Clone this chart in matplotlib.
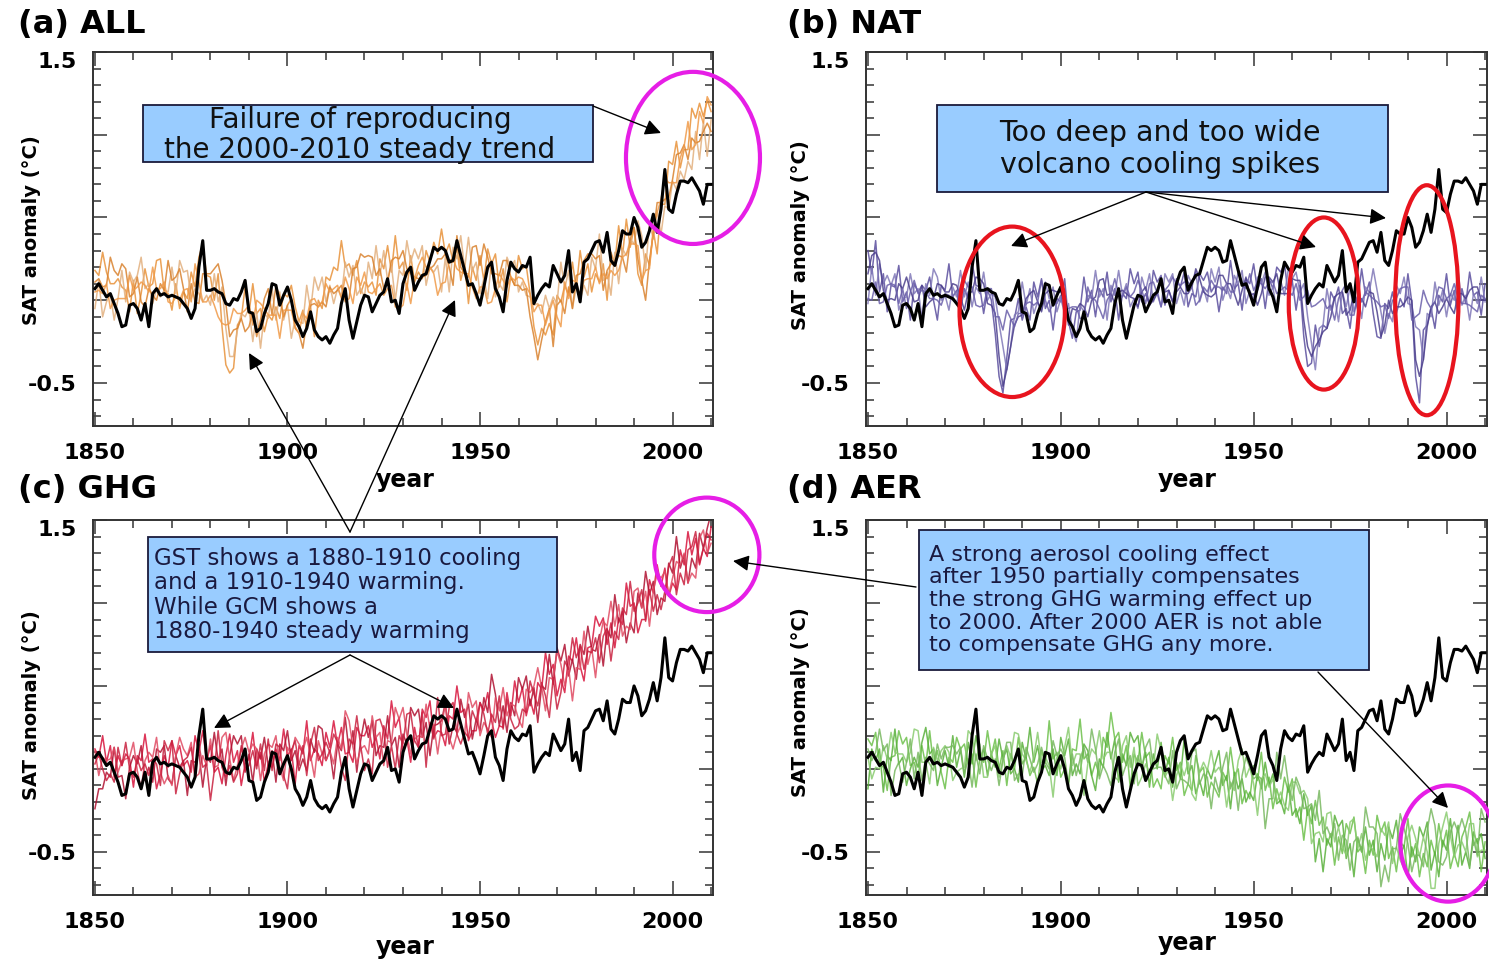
import numpy as np
import matplotlib
matplotlib.use('Agg')
import matplotlib.pyplot as plt
from matplotlib.patches import Ellipse, Rectangle
from matplotlib.ticker import MultipleLocator

years = np.arange(1850, 2011)

# observed SAT anomaly (hundredths of a degree), 1850-2010
obs = [7, 10, 6, 2, 4, -2, -8, -16, -15, -3,
       -2, -5, -12, -2, -16, 4, 7, 3, 4, 2,
       3, 2, 1, -2, -5, -11, -5, 20, 36, 6,
       6, 7, 5, 4, -2, -3, 1, 0, 5, 12,
       -7, -8, -19, -17, -8, -2, 10, 9, -3, 3,
       8, 0, -12, -16, -22, -17, -7, -18, -22, -24,
       -22, -26, -21, -17, -2, 7, -12, -23, -13, -3,
       3, 2, -7, -2, 3, 5, 13, -1, 0, -8,
       10, 17, 20, 6, 11, 15, 16, 24, 32, 30,
       32, 30, 23, 24, 36, 27, 18, 9, 10, 4,
       -3, 8, 20, 23, 7, 2, -7, 12, 23, 19,
       17, 21, 20, 26, -2, 3, 7, 10, 8, 21,
       16, 11, 15, 30, 5, 10, -1, 23, 25, 30,
       35, 36, 29, 41, 24, 21, 30, 42, 40, 40,
       50, 44, 32, 35, 42, 52, 41, 55, 79, 55,
       53, 64, 72, 72, 71, 74, 70, 66, 58, 70,
       70]

# model runs, all forcings (year-to-year part)
all_runs = [
    [12, 4, 15, 9, -2, 6, 14, 3, 10, 1, 14, 2, 8, 16, -1, 5, 12, 18, 4, 9,
     3, 13, 7, 11, -1, 9, 4, 15, 19, 6, 11, 2, 10, -8, -25, -38, -30, -12, -15, -2,
     -14, -3, -16, -7, -15, 0, -10, 3, -12, -1, -9, 2, -18, -22, -9, -14, 3, -8, 6, -4,
     10, 2, 14, 5, 19, 9, 17, 6, 22, 8, 19, 10, 22, 8, 24, 13, 21, 9, 25, 12,
     22, 11, 24, 13, 26, 17, 28, 14, 30, 16, 27, 18, 30, 15, 33, 19, 25, 10, 26, 12,
     21, 10, 22, 8, 20, 5, 23, 9, 19, 7, 20, 6, 16, -6, -20, -24, -8, -17, -2, -14,
     4, -6, 12, 0, 14, 3, 19, 8, 24, 11, 27, 15, 20, 5, 26, 14, 32, 20, 37, 28,
     46, 24, 12, 22, 20, 48, 40, 63, 54, 75, 68, 88, 77, 95, 85, 104, 93, 110, 98, 116,
     104],
    [3, 15, 0, 13, 10, -1, 5, 16, 2, 12, 2, 11, 15, 1, 10, 3, 16, 4, 13, 2,
     12, 2, 14, 3, 11, 0, 13, 6, 8, 15, 2, 13, 1, 4, -14, -22, -28, -8, -4, -12,
     -2, -16, -3, -18, -2, -12, 1, -11, 0, -10, 4, -11, -6, -12, -20, -2, -10, 5, -7, 8,
     -1, 15, 0, 16, 6, 20, 5, 19, 8, 18, 8, 22, 6, 21, 10, 20, 9, 24, 8, 20,
     10, 25, 8, 23, 12, 27, 10, 26, 15, 25, 14, 29, 13, 30, 18, 27, 11, 24, 12, 24,
     9, 24, 7, 23, 6, 19, 8, 21, 10, 20, 8, 19, 4, 8, -5, -10, -20, -3, -15, -1,
     -10, 9, -2, 16, -1, 18, 5, 21, 10, 25, 13, 29, 8, 19, 10, 30, 18, 34, 24, 42,
     30, 38, 24, 10, 35, 32, 56, 47, 70, 61, 82, 72, 90, 80, 99, 88, 106, 96, 114, 100,
     117],
    [9, 18, 7, 2, 14, 9, 0, 12, 15, 4, 10, 13, 3, 6, 12, 16, 7, 11, 1, 14,
     8, 5, 16, 11, 2, 13, 9, 3, 14, 10, 5, 12, 9, 0, -22, -36, -24, -18, -6, -9,
     -10, -6, -14, -9, -4, -2, -12, -2, -4, -10, 1, -2, -14, -12, -16, -6, -1, -6, -3, 5,
     6, 11, 12, 7, 15, 11, 8, 18, 13, 16, 17, 13, 18, 12, 22, 15, 13, 20, 17, 10,
     20, 15, 18, 21, 16, 24, 20, 18, 25, 22, 18, 26, 24, 19, 42, 18, 22, 13, 24, 20,
     12, 19, 16, 12, 18, 10, 12, 17, 13, 15, 11, 15, 12, 2, -14, -22, -18, -12, -10, -24,
     -6, 5, 1, 10, 2, 14, 10, 12, 20, 14, 18, 26, 12, 16, 14, 24, 22, 30, 26, 40,
     52, 28, 22, 14, 30, 38, 52, 58, 66, 72, 76, 84, 80, 92, 90, 100, 104, 100, 112, 110,
     108],
    [6, 2, 10, 12, 4, 3, 11, 8, 0, 9, 5, 1, 12, 4, 8, 10, 3, 13, 9, 5,
     2, 11, 1, 9, 8, 4, 10, 14, 7, 3, 12, 4, 7, -6, -12, -18, -16, -20, -13, -4,
     -6, -12, -4, -14, -10, -8, -2, -6, -11, -3, -6, -8, -10, -20, -12, -10, -6, 0, 2, -2,
     4, 6, 3, 12, 8, 16, 14, 10, 18, 6, 12, 18, 8, 17, 13, 11, 20, 18, 11, 15,
     13, 20, 14, 12, 22, 18, 16, 24, 19, 14, 24, 20, 16, 25, 22, 24, 15, 19, 16, 13,
     18, 14, 11, 18, 9, 15, 18, 10, 20, 12, 16, 9, 7, -4, -9, -12, -6, -14, -4, -8,
     0, -2, 8, 4, 10, 6, 14, 18, 12, 22, 22, 18, 16, 8, 22, 20, 28, 26, 34, 30,
     28, 32, 14, 18, 26, 44, 46, 50, 60, 64, 72, 78, 86, 84, 94, 92, 98, 108, 104, 112,
     114],
]
# slow wander of each all-forcing run
all_slow = [
    [6, 11, 14, 8, 12, 4, -1, 5, -4, -8, -2, -10, -4, 3, 9, 5, 12, 7, 1, -5,
     -9, -3, -12, -6, 2, 8, 4, 11, 15, 9, 3, -2, 6, -8, -14, -6, -11, -3, 4, 10,
     6, 13, 8, 2, -4, -9, -2, -7, 1, 5, 11, 7, 14, 9, 3, -3, -8, -14, -6, -1,
     4, 10, 6, 13, 17, 11, 5, 9, 2, -4, -8, -2, -11, -5, 1, 6, 12, 8, 14, 7,
     1, -5, 3, -2, -9, -4, 2, 9, 5, 12, 16, 10, 4, 8, -1, -7, -3, -12, -6, 0,
     6, 2, 9, 14, 8, 3, -4, -10, -5, 2, 7, 13, 5, 10, 4, -3, -9, -4, -12, -7,
     -1, 5, -3, 3, 9, 4, 11, 6, -2, -6, -11, -4, 2, -5, 3, 8, 13, 7, 12, 4,
     -2, -8, -3, 6, 1, -6, -12, -5, 4, 9, 14, 8, 3, -4, 6, 12, 17, 9, 13, 5,
     10],
    [-8, -3, -10, -14, -6, -11, -4, 2, -3, 5, 9, 4, 11, 6, 0, -5, -9, -2, -7, 3,
     8, 2, 10, 14, 7, 1, -6, -2, -9, -12, -5, 3, -2, 4, -3, -12, -6, -10, -4, 2,
     -3, -9, -4, -11, -6, 1, 6, -1, 5, -2, -7, -12, -5, -1, 6, 11, 4, 9, 13, 6,
     0, -6, -2, -9, -4, 3, 9, 2, -5, -11, -6, 1, 7, 12, 5, 10, 3, -3, -8, -2,
     5, 11, 15, 8, 13, 6, -1, -6, 2, -4, -9, -3, -8, 2, 7, 12, 8, 14, 6, -1,
     -5, -11, -6, 1, -4, -9, -2, 5, 10, 4, -3, -8, -1, -6, 2, 8, 12, 6, 10, 3,
     8, 14, 9, 2, -4, -10, -5, -12, -7, 1, 6, 11, 4, -2, -7, -1, -8, -3, 3, -5,
     4, 10, 15, 8, 12, 5, -2, -7, -13, -6, -10, -5, -12, -7, -15, -9, -4, -11, -6, -13,
     -8],
    [2, -5, 1, 7, 12, 9, 15, 10, 4, -2, -6, 1, -4, -10, -5, -13, -7, -1, 5, 10,
     4, 9, 3, -4, -9, -3, -10, -5, 2, 6, 11, 7, 13, 12, 20, 14, 6, 1, -5, -10,
     -6, -1, -8, -3, 5, 9, 3, 11, 6, 0, -4, 3, -3, -8, -13, -7, -2, 4, -1, -6,
     -10, -3, -8, -1, -6, -12, -7, 1, 7, 12, 9, 14, 8, 3, -3, -8, -2, 4, 9, 15,
     10, 4, -2, -7, -3, -10, -5, 1, -4, 3, 7, 2, -4, -10, -3, 2, -6, 1, 8, 13,
     9, 15, 10, 4, -2, 5, 12, 7, 1, -6, -2, -9, -5, -12, -8, -14, -6, -1, 5, -4,
     3, -5, -9, -2, -7, 1, 6, 12, 8, 14, 7, 1, -6, 2, 8, -2, 5, -4, -9, -3,
     -8, -3, -10, -14, -6, 2, 7, 1, -5, -10, -3, 4, 9, 2, -5, -2, -9, -4, -10, -3,
     -6],
    [-1, 4, -6, -2, -9, -3, -10, -7, 1, 6, 1, 7, -1, 5, -3, 10, 4, -6, 2, -6,
     -4, -9, -1, -3, -1, -5, 12, -3, -8, -4, -9, -7, -17, -8, -3, 4, 11, 12, 5, -2,
     3, -3, 4, 12, 5, -1, -7, -3, -12, -3, 0, 2, -6, 0, 4, -1, 6, 1, -6, 1,
     6, -1, 4, -3, -7, -2, -7, -12, -4, 3, 5, -13, -4, -10, -3, -8, -13, -9, -15, -20,
     -16, -10, -16, 1, -1, 8, 4, -4, -3, -11, -14, -9, 8, 0, -3, -7, 1, -3, -8, -12,
     -10, -6, -13, -19, -2, 1, -6, -2, -6, 0, -2, 4, 1, 8, 2, 9, 3, -1, -3, 8,
     -10, -14, 3, -3, 2, 5, -12, -6, 1, -9, -2, -8, 0, 5, -4, -5, -10, 0, -6, 4,
     6, 1, -2, 0, -7, -1, 7, 11, 14, 7, -1, -7, 0, 9, 14, -1, -4, 6, 3, 11,
     4],
]

# model runs, natural forcings only
nat_runs = [
    [20, 12, 28, 8, 14, -2, 10, 2, 12, -4, 9, -3, 12, 0, 8, -2, 11, 3, -4, 10,
     0, 12, -2, 8, 1, 10, -1, 14, 4, 9, -2, 8, -4, -16, -36, -44, -30, -14, -18, -2,
     -10, 4, -8, 8, -6, 9, -4, 6, -8, 5, -3, 6, -14, -18, -6, -12, 4, -6, 8, -3,
     10, -2, 8, -4, 11, -3, 9, 0, 12, -1, 11, 0, 10, -1, 13, 2, 11, 0, 14, 3,
     12, 1, 14, 0, 13, 4, 12, 2, 11, 5, 14, 3, 12, 2, 16, 4, 13, 1, 14, 5,
     13, 2, 15, 3, 16, 4, 12, 5, 15, 2, 16, 3, 12, -12, -26, -32, -16, -24, -6, -14,
     2, -8, 6, -4, 4, -12, 2, -6, 8, -2, 12, -2, -12, -20, -4, -12, 2, -6, 8, -2,
     12, -10, -38, -46, -14, -16, 0, -8, 6, -4, 8, -6, 8, -2, 10, -6, 8, -2, 6, -4,
     8],
    [4, 22, 12, 18, 2, 12, 0, 14, -2, 10, -1, 8, 0, 10, -4, 12, -2, 9, 8, -1,
     8, 2, 11, -2, 9, -3, 12, 2, 10, 0, 9, -3, 7, -4, -18, -26, -34, -22, -8, -12,
     2, -8, 6, -4, 7, -3, 8, -6, 4, -6, 7, -5, -4, -14, -16, 2, -8, 6, -4, 9,
     -2, 9, -4, 12, 0, 10, -2, 11, 1, 10, -1, 12, -2, 11, 1, 13, -1, 12, 2, 13,
     0, 14, 1, 12, 3, 15, 2, 14, 1, 15, 2, 15, 1, 14, 4, 13, 3, 15, 2, 14,
     3, 12, 4, 14, 5, 15, 3, 16, 4, 14, 5, 14, 0, 2, -12, -20, -30, -12, -18, -2,
     -10, 4, -6, 8, -8, 0, -10, 6, -4, 10, 0, 10, 0, -8, -16, 0, -10, 6, -4, 10,
     0, 4, -18, -24, -28, -4, -12, 4, -6, 8, -4, 6, -4, 10, -6, 6, -4, 8, -4, 8,
     -2],
    [14, 18, 24, 14, 10, 8, 4, 6, 10, 2, 6, 4, 2, 8, 6, 0, 8, 4, 6, 2,
     4, 8, 2, 6, 4, 2, 10, 6, 8, 4, 6, 2, 4, -10, -28, -38, -24, -20, -10, -8,
     -4, 0, -2, 4, 2, 0, 6, 2, -2, 2, 0, 2, -10, -8, -14, -4, 0, -2, 4, 0,
     6, 4, 0, 6, 4, 6, 2, 8, 4, 6, 4, 8, 6, 2, 8, 6, 8, 4, 10, 6,
     8, 6, 10, 6, 4, 10, 8, 6, 8, 10, 6, 12, 8, 6, 12, 10, 6, 8, 10, 6,
     10, 6, 8, 12, 8, 10, 12, 6, 10, 8, 12, 6, 10, -8, -20, -22, -24, -14, -14, -8,
     -6, 0, -2, 4, -4, -4, 0, -2, 4, 2, 8, 2, -4, -16, -12, -4, -6, 2, 0, 6,
     8, -2, -30, -36, -24, -8, -8, 0, -2, 4, 4, 2, 0, 6, 0, 2, 4, 0, 4, 2,
     4],
    [6, 10, 14, 6, 4, 2, 8, 12, 4, 6, 2, 6, 10, -2, 4, 8, 0, 6, 2, 4,
     6, 2, 8, 4, 8, 6, 4, 10, 6, 8, 2, 4, 0, -6, -22, -28, -20, -16, -14, -4,
     -6, -4, 2, -2, -4, 6, 0, -2, 0, -4, 4, -4, -6, -10, -6, -8, -4, 2, 0, 4,
     2, 0, 4, 2, 6, 2, 6, 4, 2, 2, 6, 4, 2, 8, 6, 4, 2, 8, 6, 6,
     6, 10, 4, 8, 10, 6, 6, 10, 4, 8, 10, 6, 8, 10, 8, 4, 12, 4, 6, 10,
     6, 8, 10, 4, 12, 8, 6, 12, 8, 8, 8, 10, 4, -4, -14, -22, -18, -20, -10, -8,
     0, -4, 2, 0, 0, -8, -6, 2, 0, 6, 4, 6, -8, -12, -8, -8, -2, -4, 4, 2,
     4, -8, -22, -28, -18, -12, -4, -4, 2, 0, 0, -2, 4, 0, 2, -2, 0, 4, -2, 2,
     0],
]
nat_slow = [
    [10, 4, 8, -3, 2, -5, -1, 6, 9, 3, -4, -9, -2, 5, 1, 8, 3, -3, -8, -1,
     6, 10, 4, -2, -7, -3, 2, 9, 5, -1, -6, -2, 4, -4, -10, -12, -5, 2, 7, 3,
     -2, -8, -4, 3, 8, 4, -1, -6, -10, -4, 2, 7, 1, -5, -1, 6, 10, 5, -2, -7,
     -3, 4, 9, 3, -4, -9, -5, 1, 7, 11, 6, -1, -6, -2, 5, 9, 4, -3, -8, -4,
     1, 7, 3, -4, -9, -2, 4, 10, 6, 0, -5, -10, -4, 2, 8, 3, -3, -7, -1, 5,
     9, 4, -2, -8, -3, 3, 8, 12, 7, 1, -4, -9, -3, -10, -14, -6, 1, -4, -9, -3,
     3, 8, 2, -4, -9, -5, 1, 6, 11, 5, -1, -6, -10, -3, 2, 7, 3, -2, -7, -2,
     4, 9, -8, -16, -4, 1, -5, -9, -3, 3, 8, 3, -2, -7, -3, 4, 9, 5, -1, -5,
     2],
    [-6, -2, -9, 4, 8, 3, 9, 2, -4, -9, 3, 8, 4, -3, -7, -2, 5, 10, 6, 1,
     -5, -8, -3, 4, 9, 5, -1, -6, -2, 4, 8, 3, -3, 6, 4, -2, -8, -6, -1, 5,
     9, 5, 1, -4, -8, -3, 3, 7, 4, -1, -6, -3, 2, -4, -9, -5, 1, -3, 5, 9,
     4, -2, -8, -3, 3, 8, 5, -1, -5, -9, -4, 2, 8, 5, -2, -7, -3, 4, 9, 3,
     -2, -8, -4, 3, 7, 2, -3, -7, -2, 4, 9, 5, -1, -6, -3, 2, 7, 3, -4, -8,
     -3, 2, 6, 3, -2, -7, -10, -4, -1, 5, 8, 3, 5, 8, 2, -6, -12, -5, 3, 9,
     4, -2, -7, -3, 4, 8, 3, -3, -7, -2, 5, 9, 6, 1, -4, -8, -3, 3, 8, 4,
     -2, -7, 2, 6, -8, -4, 2, 7, 3, -2, -6, -2, 4, 8, 3, -3, -8, -4, 2, 6,
     1],
    [2, 9, 5, 10, -4, -8, -3, -6, 0, 5, 8, 2, -3, -8, 3, -4, -9, -3, 4, 7,
     1, -3, 8, 3, -2, -8, -5, -1, 6, 9, 4, -4, -7, 2, -6, -14, -18, -8, -5, -2,
     -5, 1, 6, 2, -3, -7, -2, 4, 8, 3, 5, -2, -5, 3, 8, 2, -4, -8, -4, 2,
     6, 9, 3, -2, -6, -1, 4, -4, -2, -5, -8, -3, 2, -5, -8, -2, 5, 1, -4, -7,
     -3, 2, -6, -2, 4, 9, 5, -1, -5, -8, -2, 3, 7, 4, -2, -6, -9, -2, 4, -3,
     -6, -9, -4, 2, 6, 1, 4, -2, -6, -4, 1, 6, 2, -4, -8, -12, -4, -10, -5, -9,
     -4, 2, 6, 1, -5, -2, 4, -4, -3, -6, -3, 2, -3, -6, -3, 4, -2, -6, -4, -8,
     -6, 2, -6, -10, -12, -8, 4, -1, -6, -8, -3, -6, -8, -2, 4, -1, 2, 8, 4, -2,
     -4],
    [-5, -10, -3, -8, -5, 7, 2, -3, -6, 1, -7, -1, 2, 6, 2, -3, 1, -5, -2, -7,
     -2, 1, -8, -6, 1, 6, 4, -2, -9, -12, -5, 3, 7, -4, 12, 10, 14, 5, -2, -4,
     -2, 2, -3, -1, 3, 6, 0, -5, -2, 2, -1, -2, 1, 6, 2, -3, -7, 6, 1, -4,
     -7, -11, -4, 2, 7, 2, -4, 4, 0, 3, 6, 2, -4, 2, 5, 0, -6, -2, 3, 8,
     4, -1, 7, 3, -2, -9, -6, -2, 1, 4, -2, 2, -2, 0, -3, 1, 5, 6, 1, 6,
     0, 3, 0, 3, -1, 3, -2, -6, 0, -2, -5, 0, -4, 6, 20, 18, 15, 19, 11, 3,
     -3, -8, -1, 6, 10, -1, -3, 1, -1, -1, -1, -5, 7, 8, 5, -3, 2, 5, 3, 6,
     4, -4, 12, 20, 24, 11, -1, 3, 6, 7, 1, 5, 6, 1, -4, 0, -3, -9, -5, 1,
     1],
]

# model runs, greenhouse gases only
ghg_runs = [
    [8, -2, 7, -3, 12, -1, 7, -6, 6, 9, -3, 11, 0, 11, -2, 7, -5, 9, 13, -1,
     10, -4, 8, 2, 11, 0, 15, 1, 9, -3, 12, 2, 11, -4, 7, 14, 1, 13, -1, 7,
     3, 13, -3, 12, 0, 16, 7, 12, -1, 13, 2, 13, -2, 17, 5, 19, 0, 14, 17, 5,
     20, 5, 16, 5, 22, 12, 19, 9, 23, 13, 8, 20, 14, 27, 10, 23, 9, 27, 15, 27,
     13, 25, 16, 31, 12, 30, 20, 34, 18, 28, 32, 19, 30, 22, 37, 25, 33, 21, 32, 26,
     36, 25, 40, 30, 26, 38, 30, 44, 25, 41, 32, 47, 37, 52, 37, 49, 39, 56, 49, 62,
     50, 65, 50, 65, 57, 75, 64, 61, 76, 69, 82, 71, 82, 73, 92, 82, 94, 83, 101, 92,
     101, 89, 103, 96, 112, 98, 110, 103, 121, 110, 123, 113, 129, 114, 129, 121, 138, 128, 143, 131,
     142],
    [-22, -8, -6, 8, -2, 9, -3, 4, -5, 7, 7, -4, 12, -2, 11, -4, 9, 1, 10, -3,
     0, 12, -1, 11, -5, 10, 3, 14, -2, 9, -1, 12, 1, 15, -3, 9, 14, 3, 13, -3,
     14, 2, 15, 2, 10, -1, 14, 0, 17, 6, 13, 1, 13, 6, 18, 5, 17, 3, 14, 18,
     5, 17, 4, 19, 8, 23, 7, 26, 6, 19, 25, 9, 24, 10, 21, 16, 28, 15, 25, 12,
     26, 13, 29, 19, 29, 18, 32, 17, 29, 23, 20, 36, 18, 34, 24, 37, 21, 35, 20, 38,
     26, 40, 25, 43, 37, 24, 42, 31, 44, 30, 47, 35, 49, 37, 54, 38, 54, 46, 61, 48,
     63, 50, 65, 52, 68, 61, 76, 63, 74, 65, 70, 86, 72, 88, 76, 96, 84, 97, 83, 100,
     88, 105, 90, 107, 99, 114, 99, 114, 105, 121, 110, 127, 114, 128, 117, 137, 125, 139, 124, 141,
     145],
    [3, -6, 11, 1, -5, 7, -1, 11, 1, -3, 11, 1, -4, 8, 6, -3, 13, -1, 0, 10,
     -4, 7, 12, -1, 0, 14, -1, 6, 11, -1, 9, -3, 4, 13, 10, 1, -4, 10, 14, 15,
     -1, 9, 13, -1, 11, 10, 3, 16, 4, 2, 17, 6, 11, 2, 4, 17, 13, 5, 21, 8,
     8, 20, 7, 17, 4, 22, 23, 13, 9, 23, 20, 8, 25, 16, 25, 11, 21, 14, 29, 17,
     29, 20, 13, 28, 25, 17, 31, 21, 30, 17, 29, 35, 20, 19, 33, 32, 20, 39, 25, 36,
     22, 36, 37, 26, 43, 29, 38, 27, 40, 45, 42, 31, 48, 40, 38, 55, 50, 42, 57, 50,
     62, 60, 53, 70, 55, 69, 62, 79, 64, 79, 66, 82, 87, 78, 87, 78, 98, 85, 96, 88,
     104, 100, 93, 109, 94, 110, 114, 105, 114, 106, 121, 126, 117, 132, 119, 130, 121, 138, 137, 128,
     140],
    [-5, 8, 3, -6, 7, -2, 11, -4, 11, 1, -7, 8, -2, 5, -4, 11, 5, -14, 7, -4,
     9, -6, 7, 12, -3, 8, -3, 11, 3, 12, -3, 9, 15, -1, 1, 13, -2, -1, 10, 0,
     11, 16, 1, 11, -2, 13, 0, 11, 14, 3, 0, 16, 16, 5, 13, 2, 16, 20, 5, 13,
     15, 3, 20, 23, 6, 11, 18, 7, 20, 8, 10, 23, 8, 22, 23, 14, 10, 29, 12, 26,
     16, 29, 26, 14, 16, 33, 16, 29, 16, 34, 16, 24, 35, 33, 20, 23, 36, 26, 36, 23,
     39, 28, 23, 39, 29, 40, 26, 40, 32, 31, 30, 45, 36, 50, 48, 37, 56, 53, 45, 63,
     49, 53, 68, 58, 71, 56, 71, 62, 79, 76, 79, 69, 74, 91, 78, 91, 80, 94, 87, 103,
     91, 103, 106, 93, 108, 99, 116, 102, 108, 118, 119, 112, 127, 119, 134, 120, 134, 123, 139, 145,
     147],
]
ghg_slow = [
    [4, 9, 13, 7, 2, -4, 1, 8, 3, -3, -8, -3, 5, 10, 6, -1, -7, -12, -5, 2,
     7, 12, 6, 0, -6, -2, 5, 9, 14, 8, 2, -4, -10, -5, 1, 7, 3, -2, -9, -4,
     3, 9, 5, -2, -8, -13, -6, 0, 6, 11, 6, -1, -7, -3, 4, 10, 5, -2, -8, -3,
     2, 8, 13, 9, 3, -3, -9, -5, 2, 7, 12, 6, -1, -8, -4, 3, 9, 14, 10, 4,
     -2, -7, -12, -6, 1, 6, 11, 7, 1, -5, -10, -5, 2, 8, 13, 9, 3, -4, -9, -3,
     4, 10, 6, -1, -7, -12, -5, 2, 7, 12, 8, 2, -5, -10, -4, 3, 9, 14, 8, 1,
     -6, -11, -4, 3, 8, 4, -2, -8, -3, 5, 10, 15, 9, 2, -4, -9, -3, 4, 11, 6,
     -1, -7, -13, -6, 2, 8, 13, 7, 0, -6, -11, -5, 3, 9, 14, 8, 1, -5, -10, -3,
     4],
    [-2, -4, -6, -10, -3, 4, -2, -8, -13, -6, 1, 7, 2, -5, -10, -4, 3, 9, 4, -3,
     -9, -4, 2, -6, -11, -5, 1, -4, -9, -2, 5, 10, 4, -3, -7, -1, 6, 12, 7, 1,
     -5, -10, -3, 4, 9, 3, -3, -8, -2, 5, 10, 4, -2, -7, -12, -6, 1, 7, 12, 6,
     0, -6, -10, -4, 3, 8, 3, -3, -8, -2, 5, 10, 5, -2, -7, -3, 4, -1, -6, -11,
     -5, 2, 8, 13, 7, 1, -4, -9, -3, 4, 9, 4, -3, -8, -2, 5, 10, 4, -2, -8,
     -3, 3, 9, 14, 8, 2, -4, -9, -4, 2, 8, 13, 7, 1, -5, -10, -4, 2, 8, 3,
     10, 15, 10, 4, -2, -7, -1, 6, 12, 7, 1, -5, -10, -4, 3, 9, 4, -2, -7, -12,
     -6, 1, 7, 12, 6, -1, -6, -11, -4, 3, 8, 13, 7, 1, -5, -10, -4, 3, 9, 4,
     9],
    [8, 2, -4, 4, 11, 6, -1, -6, 5, 10, 5, -2, -8, -3, 4, 10, 6, -1, -9, -14,
     -6, 1, 7, 13, 8, 2, -4, -9, -3, 3, 9, 4, -2, 6, 12, 5, -3, -8, -2, 4,
     11, 6, -1, -6, -2, 5, 10, 4, -3, -9, -4, 2, 8, 13, 7, 2, -5, -10, -4, 1,
     -3, -9, -4, 2, 8, 13, 6, 0, -6, -11, -6, 1, 7, 3, -3, -9, -4, 2, 8, 13,
     8, 1, -4, -10, -5, 2, 8, 3, -3, -8, -3, 4, -1, -7, -12, -6, 1, 7, 12, 5,
     -2, -8, -13, -7, 0, 6, 11, 5, -1, -7, -12, -6, 0, 6, 12, 6, -1, -7, -2, 4,
     9, 3, -3, -9, -14, -8, -2, 4, -1, -6, -11, -5, 2, 8, 14, 8, 1, -5, -10, -4,
     3, 9, 4, -2, -8, -3, 4, 10, 5, -1, -6, -1, 6, -2, -7, -12, -6, 1, 7, 2,
     -4],
    [8, 1, -3, -1, -10, -6, 2, 6, 5, -1, 2, -2, 1, -2, 0, -5, -2, 4, 10, 15,
     8, -9, -10, -7, 10, 5, -2, 4, -2, -9, -16, -10, 8, 2, -6, -11, -6, -2, 4, -1,
     -9, -5, -1, 4, 1, 5, -1, 4, -1, -7, -12, -5, 1, -3, 1, -6, -1, 5, 0, -4,
     1, 7, 1, -7, -5, -18, 0, 8, 12, 6, -11, -17, -11, 7, 7, 9, -9, -15, -12, -6,
     -1, 4, 8, 3, -3, 1, -15, -1, 2, 9, 4, -3, 2, 7, 1, -8, -14, -7, -1, 6,
     1, 5, -2, -6, -1, 4, -2, 2, -2, -7, -4, -9, -2, 3, -3, 1, -4, -9, -14, -8,
     -13, -7, -3, 2, 8, 11, 3, -2, -8, -6, 0, -5, 6, -6, -13, -8, -2, 3, 6, 10,
     4, -3, 2, -4, 0, -4, -11, -6, -1, 4, 9, -7, -9, -8, -2, 14, 9, 1, -6, -3,
     -9],
]

# model runs, anthropogenic aerosols only
aer_runs = [
    [12, 2, 15, 2, 6, -3, 11, 5, 14, 1, 11, 0, 8, 3, 17, -2, 13, -3, 12, 5,
     0, 13, 3, 12, 0, 9, 4, 15, 0, 10, 2, 15, -5, 11, -1, 16, 0, 13, -3, 10,
     -1, 9, 4, 14, -3, 10, -4, 17, 0, 10, 1, 11, -3, 10, 3, 16, -2, 7, 0, 13,
     -1, 15, 3, 19, 0, 12, 1, 17, -3, 11, -1, 11, 1, 11, -4, 6, -7, 6, -5, 6,
     -8, 3, -11, 1, -9, 5, -11, -3, -15, 0, 1, -11, -3, -14, 1, -10, 0, -15, -2, -13,
     0, -15, -3, -20, -6, -19, -2, -17, -8, -23, -10, -27, -15, -30, -18, -34, -26, -46, -35, -46,
     -33, -47, -36, -53, -41, -52, -36, -51, -42, -53, -39, -55, -37, -52, -40, -56, -43, -53, -41, -51,
     -40, -58, -44, -58, -39, -53, -44, -59, -45, -53, -37, -54, -40, -54, -43, -51, -36, -49, -39, -54,
     -42],
    [-3, 15, 1, 14, -6, 11, 2, 15, -1, 9, -3, 12, 13, 0, 9, 13, 3, 12, -5, 11,
     15, -2, 11, -3, 14, 2, 18, -2, 10, 1, 13, 3, 11, -3, 8, 1, 13, 3, 11, -3,
     14, -2, 12, -4, 12, 3, 11, -1, 9, -2, 14, -2, 14, -2, 10, -1, 11, 12, 2, -2,
     12, 0, 15, 4, 22, 1, 12, -1, 13, 2, 12, -1, 13, -3, 11, -5, 6, -7, 8, -5,
     3, -12, 6, -9, 1, -10, 3, -12, -2, -14, -10, 4, -12, 0, -15, 1, -15, -4, -13, -2,
     -13, -3, -18, -7, -16, -3, -15, -8, -22, -10, -23, -14, -29, -17, -36, -25, -62, -40, -50, -36,
     -47, -34, -47, -37, -54, -39, -53, -36, -50, -40, -52, -38, -51, -40, -56, -42, -54, -37, -53, -41,
     -55, -43, -58, -43, -54, -39, -62, -45, -55, -39, -52, -39, -54, -32, -51, -38, -54, -39, -52, -41,
     -51],
    [6, 0, 12, 5, 12, -2, 9, 3, 8, 14, 1, 1, 10, 15, 2, 8, 0, 16, 1, 1,
     9, 11, -1, 9, 5, -1, 15, 7, -2, 14, -1, 4, 12, 10, -4, 12, 11, -2, 8, 13,
     10, 11, -1, 2, 12, 0, 9, 10, -4, 13, 0, 7, 13, -4, 9, 15, -4, 9, 11, 2,
     10, -1, 9, 15, 5, -3, 12, 12, -2, 15, -2, 8, 10, -2, -5, 10, 5, -5, 6, -8,
     1, 2, -10, 3, -10, -9, 2, 2, -9, -2, -9, 0, 1, -13, -4, -15, -3, -1, -12, 0,
     -4, -18, -2, -5, -19, -9, -17, -6, -9, -18, -8, -14, -26, -18, -17, -38, -27, -32, -44, -33,
     -37, -49, -34, -41, -51, -37, -41, -53, -39, -50, -36, -44, -54, -42, -51, -38, -57, -42, -45, -55,
     -42, -41, -54, -59, -42, -45, -58, -63, -42, -38, -34, -43, -51, -38, -41, -54, -42, -37, -51, -42,
     -37],
    [10, 8, 0, 18, 0, 10, -4, 12, 6, -1, 8, 17, -2, 10, -1, 12, 10, 1, 13, -1,
     2, 9, 16, -1, 18, -2, 12, 1, 15, -1, 11, -2, 7, 13, 0, -1, 8, 15, -1, 9,
     1, 13, 10, -2, 9, 14, 0, 1, 13, 0, 11, 12, 1, 7, -3, 12, 13, -1, 15, -1,
     -2, 14, 15, 2, 14, 15, -2, 11, 12, 1, 13, 0, 9, 9, -3, 5, 12, -4, -8, 7,
     -9, 1, 6, -12, 2, 0, -14, -1, 3, -11, 2, -12, -1, 3, -13, 0, -14, 1, -4, -15,
     -15, -6, -1, -16, -3, -20, -6, -21, -7, -6, -20, -11, -12, -29, -22, -24, -38, -27, -45, -35,
     -36, -33, -49, -38, -36, -49, -38, -41, -55, -37, -49, -40, -40, -56, -38, -53, -40, -56, -39, -42,
     -44, -54, -39, -45, -57, -41, -46, -41, -57, -53, -42, -32, -42, -53, -38, -40, -53, -38, -50, -37,
     -49],
]
aer_slow = [
    [6, 12, 7, 1, -5, -10, -4, 3, 9, 14, 8, 2, -4, -9, -3, 4, 10, 5, -1, -7,
     -12, -6, 1, 7, 12, 6, -1, -6, -11, -4, 2, 8, 13, 7, 1, -5, -10, -4, 3, 9,
     4, -2, -8, -13, -6, 1, 7, 12, 6, 0, -6, -11, -5, 2, 8, 14, 8, 2, -4, -9,
     -3, 4, 10, 15, 18, 10, 3, -3, -8, -2, 5, 11, 6, -1, -7, -12, -5, 2, 8, 13,
     7, 1, -5, -10, -4, 3, 9, 4, -2, -8, -13, -6, 1, 7, 12, 6, 0, -6, -11, -5,
     2, 8, 13, 7, 1, -5, -10, -4, 3, 9, 4, -2, -8, -13, -6, 1, 7, 12, 6, 0,
     -6, -11, -5, 2, 8, 13, 7, 1, -5, -10, -4, 3, 9, 14, 8, 2, -4, -9, -3, 4,
     10, 5, -1, -7, -12, -6, 1, 7, 12, 6, 0, -6, -11, -5, 2, 16, 10, 3, -3, -8,
     -2],
    [-9, -3, 4, -2, -8, -3, 3, 9, 4, -2, -7, -12, -6, 1, 7, 12, 6, 0, -5, -10,
     -4, 3, 9, 4, -2, -7, -2, 5, 10, 5, -1, -7, -2, 4, 10, 5, -1, -6, -11, -5,
     2, 8, 13, 8, 2, -4, -9, -3, 3, -2, 5, 10, 4, -2, -7, -2, 4, -1, -6, -11,
     -6, 1, 7, 2, -4, -9, -3, 3, 9, 14, 8, 2, -3, -8, -2, 5, 10, 4, -1, -6,
     1, 6, 12, 6, 1, -5, -10, -4, 2, 8, 13, 7, 2, -4, -9, -3, 3, -2, -7, -12,
     -6, 0, 6, 11, 6, 0, -6, -11, -5, 1, -5, -10, -4, 2, 8, 3, 6, -2, -12, -6,
     0, 6, 12, 6, 0, -6, -12, -6, 0, 5, 0, -5, -11, -5, 1, 7, 12, 6, 1, -5,
     -10, -4, 2, 8, 13, 7, 1, -5, -10, -4, 3, 9, 3, -2, -7, -12, -6, 1, 7, 2,
     -3],
    [1, -6, -11, -5, 2, 8, 13, 7, 1, -5, 3, 9, 14, 8, 2, -4, -9, -3, 4, 10,
     5, -1, -6, -11, -5, 2, 8, 13, 7, 1, -4, -9, -3, 4, -1, -6, 3, 9, 14, 8,
     -1, -6, -1, 5, 10, 4, -2, -8, -13, -6, 0, 6, 12, 6, 0, -6, -12, -6, 1, 7,
     13, 7, 1, -5, -10, -4, 2, 8, 3, -2, -8, -13, -7, 0, 6, 11, 6, 0, -6, -11,
     -5, 1, 6, 1, -5, -10, -4, 2, 8, 13, 7, 1, -5, -10, -4, 2, 8, 13, 7, 1,
     -5, -10, -4, 2, 8, 3, -3, -8, -13, -7, 0, 6, 11, 5, -1, -7, -12, -6, 0, 6,
     11, 5, -1, -6, -1, 5, 11, 5, 0, -5, -10, -5, 1, 6, 11, 6, 0, -5, -10, -5,
     1, 7, 12, 6, 1, -5, -14, -9, -3, 3, 8, 3, -2, -8, -3, 4, 9, 4, -2, -7,
     -12],
    [2, -3, 10, 6, 11, 5, -12, -13, -2, -7, -4, 1, -4, 0, -6, -5, -7, -2, 2, 7,
     11, 4, -2, 10, -5, -1, -6, -12, -6, -2, 3, 8, -8, -7, -10, 6, 8, 1, -6, -12,
     -5, 0, -4, 0, -6, -1, 4, -1, 4, 8, 1, -5, -11, 2, -1, -6, 0, 5, 9, 13,
     -4, -12, -18, -12, -4, 3, -2, -8, -4, -10, -5, 0, 4, 9, 3, -4, -11, 0, -1, 4,
     -3, -7, -13, 3, 8, 12, 5, -2, -8, -13, -7, -2, 2, 7, 1, -5, -11, -5, 11, 16,
     9, 2, -5, -20, -15, 2, 16, 15, 15, -3, 1, 6, 1, 5, -1, 3, 7, 14, 6, 0,
     -5, 0, -6, -2, -7, -12, -6, 0, 5, 14, 14, 5, 1, -15, -20, -15, -8, 8, 12, 6,
     -1, -8, -13, -7, -2, 4, 22, 7, 1, -5, -11, -6, 10, 15, 8, 2, -5, -5, -2, 13,
     17],
]

panels = [
    ('(a) ALL', all_runs, all_slow, ['#E8923A', '#E2B07E', '#D9822E', '#F09A48']),
    ('(b) NAT', nat_runs, nat_slow, ['#5A4E9E', '#8078B8', '#4B3F8C', '#6A5FAA']),
    ('(c) GHG', ghg_runs, ghg_slow, ['#D8143C', '#B01030', '#E04A62', '#C8203E']),
    ('(d) AER', aer_runs, aer_slow, ['#6CC04A', '#58B03A', '#8ACC70', '#78B860']),
]

W, H = 1489, 960
fig = plt.figure(figsize=(W / 100, H / 100), dpi=100)
plt.rcParams['font.family'] = ['DejaVu Sans']

# axes boxes in pixels: left, top, right, bottom
boxes = [(93, 52, 713, 426), (866, 52, 1487, 426),
         (93, 520, 713, 895), (866, 520, 1487, 895)]
title_pos = [(18, 25), (787, 25), (18, 490), (787, 490)]
year_pos = [(405, 480), (1187, 480), (405, 947), (1187, 943)]
ylab_pos = [(32, 230), (800, 235), (32, 705), (800, 702)]

axes = []
for (title, runs, slow, cols), (l, t, r, b), (tx, ty), (yx, yy), (lx, ly) in zip(
        panels, boxes, title_pos, year_pos, ylab_pos):
    ax = fig.add_axes([l / W, 1 - b / H, (r - l) / W, (b - t) / H])
    for run, drift, c in zip(runs, slow, cols):
        ax.plot(years, (np.array(run) + np.array(drift)) / 100, color=c,
                lw=1.1, alpha=0.85, zorder=2)
    ax.plot(years, np.array(obs) / 100, color='black', lw=2.2, zorder=3)

    ax.set_xlim(1849.5, 2010.5)
    ax.set_ylim(-0.76, 1.5)
    ax.set_xticks([1850, 1900, 1950, 2000])
    ax.xaxis.set_minor_locator(MultipleLocator(10))
    ax.set_yticks([-0.5, 0, 0.5, 1.0, 1.5])
    ylabels = ax.set_yticklabels(['-0.5', '', '', '', '1.5'])
    ylabels[-1].set_verticalalignment('top')
    ax.yaxis.set_minor_locator(MultipleLocator(0.1))
    ax.tick_params(which='both', direction='in', top=True, right=True,
                   width=1.2, color='#444444')
    ax.tick_params(which='major', length=10, pad=12, labelsize=16)
    ax.tick_params(which='minor', length=6)
    for lbl in ax.get_xticklabels() + ax.get_yticklabels():
        lbl.set_fontweight('bold')
    for sp in ax.spines.values():
        sp.set_linewidth(1.4)
        sp.set_color('#333333')

    fig.text(tx / W, 1 - ty / H, title, fontsize=23, fontweight='bold',
             ha='left', va='center')
    fig.text(yx / W, 1 - yy / H, 'year', fontsize=17, fontweight='bold',
             ha='center', va='center')
    fig.text(lx / W, 1 - ly / H, 'SAT anomaly (°C)', fontsize=14,
             fontweight='bold', rotation=90, ha='center', va='center')
    axes.append(ax)

ax_a, ax_b, ax_c, ax_d = axes

# highlighted regions
def ring(ax, cx, cy, w, h, color):
    ax.add_patch(Ellipse((cx, cy), w, h, fill=False, ec=color, lw=3,
                         clip_on=False, zorder=6))

ring(ax_a, 2005.3, 0.86, 34.8, 1.04, '#E61EE6')
ring(ax_b, 1887.4, -0.07, 27.3, 1.03, '#E8141E')
ring(ax_b, 1968.2, -0.02, 18.2, 1.04, '#E8141E')
ring(ax_b, 1994.9, 0.00, 16.4, 1.39, '#E8141E')
ring(ax_c, 2008.9, 1.29, 27.3, 0.69, '#E61EE6')
ring(ax_d, 2000.4, -0.45, 24.7, 0.70, '#E61EE6')

# overlay in pixel coordinates for callouts
ov = fig.add_axes([0, 0, 1, 1], zorder=10)
ov.set_xlim(0, W)
ov.set_ylim(H, 0)
ov.axis('off')
ov.patch.set_alpha(0)

def callout(x0, y0, x1, y1):
    ov.add_patch(Rectangle((x0, y0), x1 - x0, y1 - y0, fc='#99CCFF',
                           ec='#1a1a3a', lw=1.3))

def arrow(x0, y0, x1, y1):
    ov.annotate('', xy=(x1, y1), xytext=(x0, y0),
                arrowprops=dict(arrowstyle='-|>', color='black', lw=1.0,
                                mutation_scale=24, shrinkA=0, shrinkB=0))

callout(143, 105, 593, 162)
ov.text(360, 135, 'Failure of reproducing\nthe 2000-2010 steady trend',
        fontsize=20, ha='center', va='center', linespacing=1.1, color='#111111')
arrow(593, 106, 661, 133)

callout(937, 105, 1388, 192)
ov.text(1160, 149, 'Too deep and too wide\nvolcano cooling spikes',
        fontsize=20.5, ha='center', va='center', linespacing=1.2, color='#111111')
arrow(1146, 192, 1011, 246)
arrow(1146, 192, 1316, 247)
arrow(1146, 192, 1386, 218)

callout(148, 537, 557, 652)
ov.text(154, 595, 'GST shows a 1880-1910 cooling\nand a 1910-1940 warming.\n'
        'While GCM shows a\n1880-1940 steady warming',
        fontsize=16.5, ha='left', va='center', linespacing=1.08, color='#1a1a40')
arrow(350, 532, 249, 353)
arrow(350, 532, 455, 300)
arrow(350, 655, 214, 728)
arrow(350, 655, 454, 708)

callout(919, 530, 1369, 670)
ov.text(929, 600, 'A strong aerosol cooling effect\nafter 1950 partially compensates\n'
        'the strong GHG warming effect up\nto 2000. After 2000 AER is not able\n'
        'to compensate GHG any more.',
        fontsize=16, ha='left', va='center', linespacing=1.17, color='#1a1a40')
arrow(916, 587, 733, 561)
arrow(1318, 672, 1448, 808)

fig.savefig('out.png', dpi=100)
